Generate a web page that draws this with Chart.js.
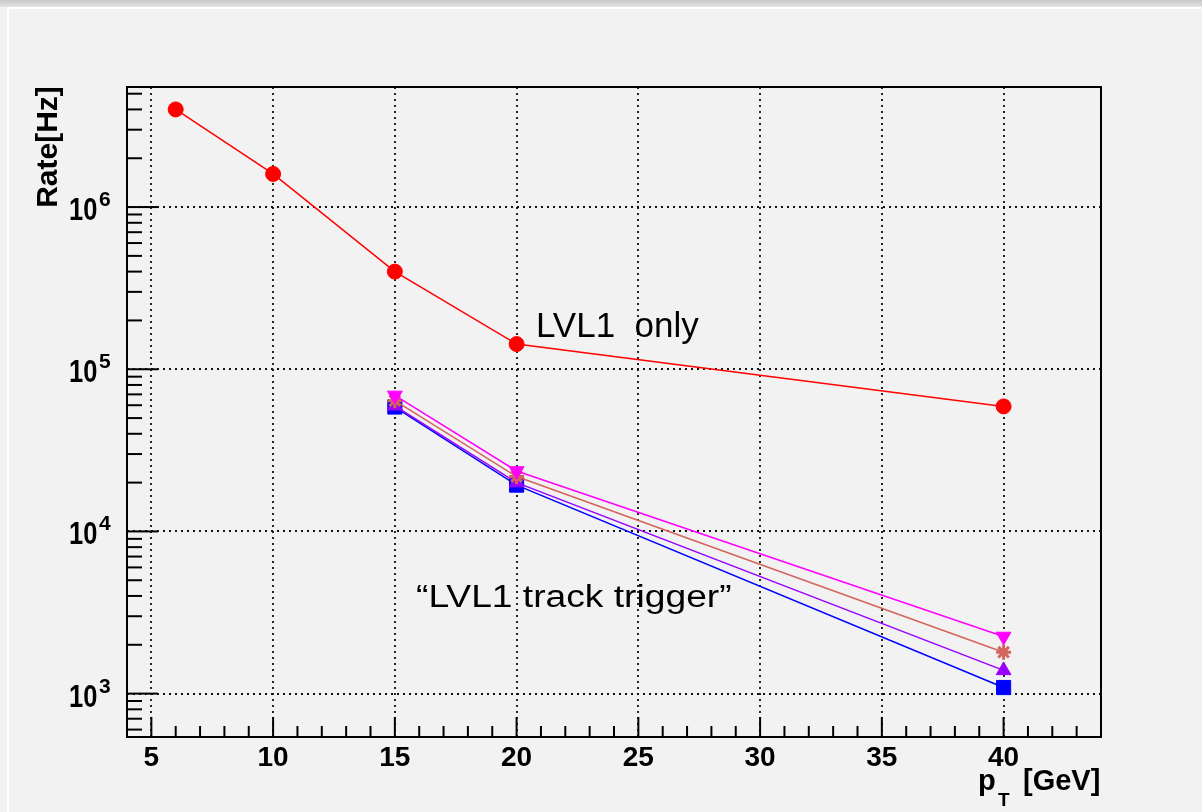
<!DOCTYPE html>
<html>
<head>
<meta charset="utf-8">
<script src="https://cdn.jsdelivr.net/npm/chart.js@4.4.0/dist/chart.umd.min.js"></script>
<style>
  html, body { margin: 0; padding: 0; background: #f2f2f2; }
  #topbar { position: absolute; left: 0; top: 0; width: 1202px; height: 7px;
            background: linear-gradient(#c8c8c8, #e2e2e2); }
  #panel { position: absolute; left: 7px; top: 7px; width: 1195px; height: 805px;
           border-left: 2px solid #ffffff; border-top: 2px solid #ffffff; box-sizing: border-box;
           background: #f2f2f2; }
  #wrap { position: absolute; left: 0; top: 0; width: 1202px; height: 812px; }
</style>
</head>
<body>
<div id="topbar"></div>
<div id="panel"></div>
<div id="wrap"><canvas id="rateChart" width="1202" height="812"></canvas></div>
<script>
// pT points (GeV)
const ptLvl1 = [6, 10, 15, 20, 40];
const ptTrack = [15, 20, 40];

// rates (Hz)
const rateLvl1 = [4.0e6, 1.6e6, 4.0e5, 1.43e5, 5.9e4];
const rateMagenta = [6.9e4, 2.36e4, 2.25e3];
const rateSalmon = [6.4e4, 2.18e4, 1.8e3];
const ratePurple = [5.95e4, 2.0e4, 1.39e3];
const rateBlue = [5.85e4, 1.93e4, 1.09e3];

// axes
const xMin = 4, xMax = 44;
const yMin = 540, yMax = 5.5e6;
const xMajorTicks = [5, 10, 15, 20, 25, 30, 35, 40];
const xTickLabels = ['5', '10', '15', '20', '25', '30', '35', '40'];
const yDecades = [1e3, 1e4, 1e5, 1e6];
const yTickExponents = ['3', '4', '5', '6'];

function pts(xs, ys) {
    return xs.map((x, i) => ({ x: x, y: ys[i] }));
}

const rootFrame = {
    id: 'rootFrame',
    beforeDatasetsDraw(chart) {
        const ctx = chart.ctx;
        const a = chart.chartArea;
        const xs = chart.scales.x, ys = chart.scales.y;
        ctx.save();

        // dotted grid
        ctx.strokeStyle = '#111';
        ctx.lineWidth = 1.8;
        ctx.setLineDash([2, 4]);
        xMajorTicks.forEach(v => {
            const px = Math.round(xs.getPixelForValue(v));
            ctx.beginPath();
            ctx.moveTo(px, a.top);
            ctx.lineTo(px, a.bottom);
            ctx.stroke();
        });
        yDecades.forEach(v => {
            const py = Math.round(ys.getPixelForValue(v));
            ctx.beginPath();
            ctx.moveTo(a.left, py);
            ctx.lineTo(a.right, py);
            ctx.stroke();
        });
        ctx.setLineDash([]);

        // ticks (inside the frame)
        ctx.strokeStyle = '#000';
        ctx.lineWidth = 2;
        for (let v = Math.ceil(xMin); v <= xMax; v++) {
            const px = xs.getPixelForValue(v);
            const len = (v % 5 === 0) ? 20 : 11;
            ctx.beginPath();
            ctx.moveTo(px, a.bottom);
            ctx.lineTo(px, a.bottom - len);
            ctx.stroke();
        }
        for (let e = 2; e <= 6; e++) {
            for (let m = 1; m <= 9; m++) {
                const v = m * Math.pow(10, e);
                if (v < yMin || v > yMax) continue;
                const py = ys.getPixelForValue(v);
                const len = (m === 1) ? 31 : 15;
                ctx.beginPath();
                ctx.moveTo(a.left, py);
                ctx.lineTo(a.left + len, py);
                ctx.stroke();
            }
        }

        // frame
        ctx.lineWidth = 2;
        ctx.strokeRect(a.left, a.top, a.right - a.left, a.bottom - a.top);
        ctx.restore();
    },
    afterDraw(chart) {
        const ctx = chart.ctx;
        const xs = chart.scales.x, ys = chart.scales.y;
        ctx.save();
        ctx.fillStyle = '#000';

        // x tick labels
        ctx.font = 'bold 28px "Liberation Sans", Arial, sans-serif';
        ctx.textAlign = 'center';
        ctx.textBaseline = 'alphabetic';
        xMajorTicks.forEach((v, i) => {
            ctx.fillText(xTickLabels[i], xs.getPixelForValue(v), 766);
        });

        // y tick labels 10^n
        yDecades.forEach((v, i) => {
            const py = ys.getPixelForValue(v);
            ctx.textAlign = 'left';
            ctx.font = 'bold 29px "Liberation Sans", Arial, sans-serif';
            ctx.save();
            ctx.translate(69, py + 13);
            ctx.scale(0.88, 1.05);
            ctx.fillText('10', 0, 0);
            ctx.restore();
            ctx.font = 'bold 21px "Liberation Sans", Arial, sans-serif';
            ctx.fillText(yTickExponents[i], 99, py - 1);
        });

        // y title
        ctx.save();
        ctx.translate(57, 147);
        ctx.rotate(-Math.PI / 2);
        ctx.font = 'bold 30px "Liberation Sans", Arial, sans-serif';
        ctx.textAlign = 'center';
        ctx.fillText('Rate[Hz]', 0, 0);
        ctx.restore();

        // x title p_T [GeV]
        ctx.textAlign = 'left';
        ctx.font = 'bold 29px "Liberation Sans", Arial, sans-serif';
        ctx.fillText('p', 978, 790);
        ctx.font = 'bold 19px "Liberation Sans", Arial, sans-serif';
        ctx.fillText('T', 998, 806);
        ctx.font = 'bold 29px "Liberation Sans", Arial, sans-serif';
        ctx.fillText('[GeV]', 1023, 790);

        // annotations
        ctx.font = '35px "Liberation Sans", Arial, sans-serif';
        ctx.fillText('LVL1  only', 536, 337);
        ctx.save();
        ctx.translate(416, 607);
        ctx.scale(1.2, 1);
        ctx.font = '31px "Liberation Sans", Arial, sans-serif';
        ctx.fillText('\u201cLVL1 track trigger\u201d', 0, 0);
        ctx.restore();

        ctx.restore();
    }
};

new Chart(document.getElementById('rateChart').getContext('2d'), {
    type: 'line',
    data: {
        datasets: [
            {
                label: 'track trigger (magenta)',
                data: pts(ptTrack, rateMagenta),
                borderColor: '#ff00ff',
                backgroundColor: '#ff00ff',
                borderWidth: 1.5,
                pointStyle: 'triangle',
                rotation: 180,
                pointRadius: 8.5,
                pointBorderWidth: 1
            },
            {
                label: 'track trigger (salmon)',
                data: pts(ptTrack, rateSalmon),
                borderColor: '#d4645c',
                backgroundColor: '#d4645c',
                borderWidth: 1.5,
                pointStyle: 'star',
                pointRadius: 7.5,
                pointBorderWidth: 3
            },
            {
                label: 'track trigger (purple)',
                data: pts(ptTrack, ratePurple),
                borderColor: '#9900ff',
                backgroundColor: '#9900ff',
                borderWidth: 1.5,
                pointStyle: 'triangle',
                pointRadius: 8.5,
                pointBorderWidth: 1
            },
            {
                label: 'track trigger (blue)',
                data: pts(ptTrack, rateBlue),
                borderColor: '#0000ff',
                backgroundColor: '#0000ff',
                borderWidth: 1.5,
                pointStyle: 'rect',
                pointRadius: 10,
                pointBorderWidth: 1
            },
            {
                label: 'LVL1 only',
                data: pts(ptLvl1, rateLvl1),
                borderColor: '#ff0000',
                backgroundColor: '#ff0000',
                borderWidth: 1.5,
                pointStyle: 'circle',
                pointRadius: 7.5,
                pointBorderWidth: 1
            }
        ]
    },
    options: {
        responsive: false,
        animation: false,
        layout: { padding: { left: 127, right: 101, top: 87, bottom: 75 } },
        plugins: {
            legend: { display: false },
            tooltip: { enabled: false }
        },
        elements: { line: { tension: 0 } },
        scales: {
            x: { type: 'linear', min: xMin, max: xMax, display: false },
            y: { type: 'logarithmic', min: yMin, max: yMax, display: false }
        }
    },
    plugins: [rootFrame]
});
</script>
</body>
</html>
